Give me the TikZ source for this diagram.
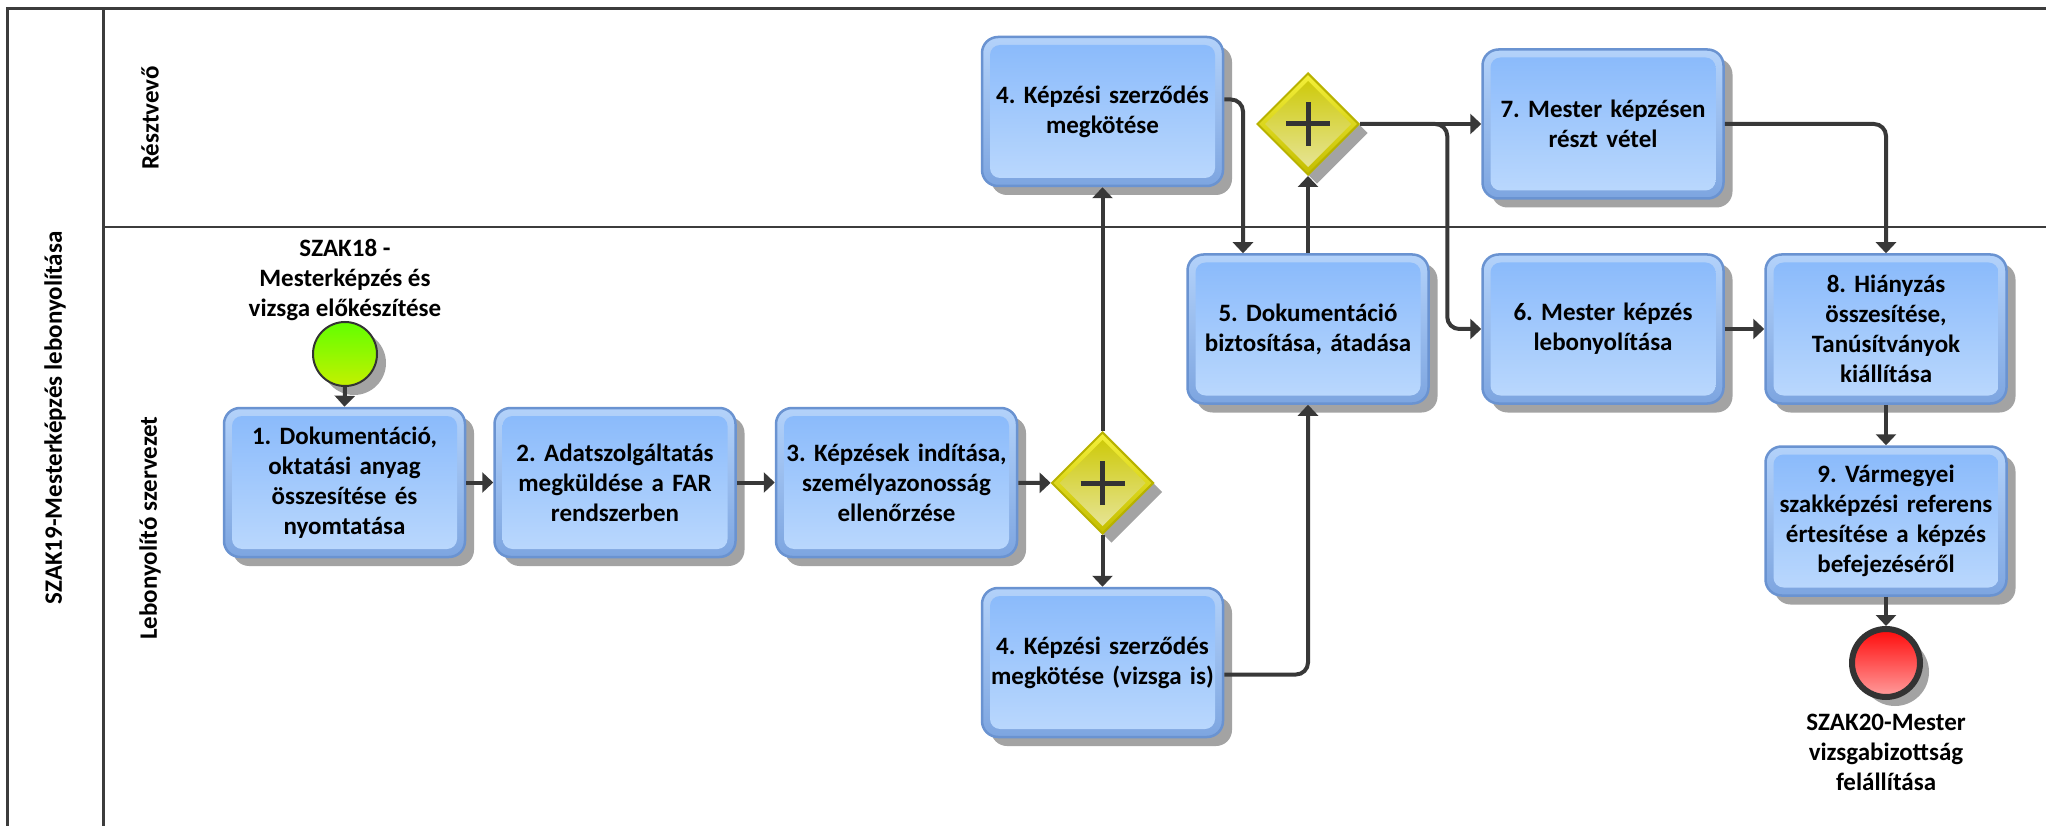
\documentclass[tikz,border=0pt]{standalone}
\usepackage{fontspec}
\setmainfont{Carlito}
\usetikzlibrary{shapes.geometric,shadows,arrows.meta,calc}

\definecolor{frameline}{HTML}{3C3C3C}
\definecolor{flowline}{HTML}{383838}
\definecolor{shadowgray}{HTML}{A3A3A3}
\definecolor{taskedge}{HTML}{6A93D1}
\definecolor{taskbandtop}{HTML}{B3D2FA}
\definecolor{taskbandbot}{HTML}{7DA5E0}
\definecolor{taskfilltop}{HTML}{88B9FB}
\definecolor{taskfillbot}{HTML}{BCD9FD}
\definecolor{gateedge}{HTML}{B8B200}
\definecolor{gatebandtop}{HTML}{F4F03A}
\definecolor{gatebandbot}{HTML}{C4BE00}
\definecolor{gatefilltop}{HTML}{CCC800}
\definecolor{gatefillbot}{HTML}{E8E6A0}
\definecolor{startfilltop}{HTML}{62FF00}
\definecolor{startfillbot}{HTML}{C4F000}
\definecolor{endfilltop}{HTML}{FF0A0A}
\definecolor{endfillbot}{HTML}{FF9E9E}
\definecolor{eventedge}{HTML}{333333}

\newcommand\diagfont{\fontsize{25pt}{30pt}\selectfont\bfseries\frenchspacing}

\tikzset{
  flow/.style={draw=flowline, line width=4pt, rounded corners=12pt,
    -{Triangle[length=11pt,width=20pt]}},
  castshadow/.style={drop shadow={shadow xshift=9pt, shadow yshift=-9pt,
    fill=shadowgray, opacity=1}},
  task/.style={rectangle, rounded corners=16pt, minimum width=241pt,
    minimum height=149pt, inner sep=0pt, draw=taskedge, line width=2.5pt,
    top color=taskbandtop, bottom color=taskbandbot, castshadow,
    text width=236pt, align=center, font=\diagfont,
    path picture={
      \shade[rounded corners=10pt, top color=taskfilltop, bottom color=taskfillbot]
        ([shift={(8pt,-8pt)}]path picture bounding box.north west) rectangle
        ([shift={(-8pt,8pt)}]path picture bounding box.south east);
    }},
  gateway/.style={diamond, aspect=1, minimum width=102pt, minimum height=102pt,
    inner sep=0pt, draw=gateedge, line width=2pt,
    top color=gatebandtop, bottom color=gatebandbot, castshadow,
    path picture={
      \shade[top color=gatefilltop, bottom color=gatefillbot]
        ([yshift=43pt]path picture bounding box.center) --
        ([xshift=43pt]path picture bounding box.center) --
        ([yshift=-43pt]path picture bounding box.center) --
        ([xshift=-43pt]path picture bounding box.center) -- cycle;
      \draw[eventedge, line width=5pt]
        ([xshift=-22pt]path picture bounding box.center) --
        ([xshift=22pt]path picture bounding box.center)
        ([yshift=-22pt]path picture bounding box.center) --
        ([yshift=22pt]path picture bounding box.center);
    }},
  startevent/.style={circle, minimum size=64pt, inner sep=0pt, draw=eventedge,
    line width=2pt, top color=startfilltop, bottom color=startfillbot, castshadow},
  stopevent/.style={circle, minimum size=68pt, inner sep=0pt, draw=eventedge,
    line width=6pt, top color=endfilltop, bottom color=endfillbot, castshadow},
  lanetitle/.style={rotate=90, font=\diagfont},
  eventlabel/.style={font=\diagfont, align=center},
}

\begin{document}
\begin{tikzpicture}[x=1pt, y=-1pt]
\useasboundingbox (0,0) rectangle (2046,826);
\fill[white] (0,0) rectangle (2046,826);

% pool and lanes
\draw[frameline, line width=3pt] (2060,9) -- (7,9) -- (7,840);
\draw[frameline, line width=3pt] (103,9) -- (103,840);
\draw[frameline, line width=2.5pt] (103,227) -- (2060,227);

\node[lanetitle] (pooltitle) at (55,418) {SZAK19-Mesterképzés lebonyolítása};
\node[lanetitle] (lanetop) at (150,118) {Résztvevő};
\node[lanetitle] (lanebottom) at (150,528) {Lebonyolító szervezet};

% events
\node[eventlabel] (startlabel) at (345,280) {SZAK18 -\\Mesterképzés és\\vizsga előkészítése};
\node[startevent] (start) at (345,354) {};
\node[stopevent] (stop) at (1886,663) {};
\node[eventlabel] (stoplabel) at (1886,752) {SZAK20-Mester\\vizsgabizottság\\felállítása};

% tasks
\node[task] (b1) at (344.5,482.5) {1. Dokumentáció,\\oktatási anyag\\összesítése és\\nyomtatása};
\node[task] (b2) at (615,482.5) {2. Adatszolgáltatás\\megküldése a FAR\\rendszerben};
\node[task] (b3) at (896.5,482.5) {3. Képzések indítása,\\személyazonosság\\ellenőrzése};
\node[task] (b4a) at (1102.5,111.5) {4. Képzési szerződés\\megkötése};
\node[task] (b4b) at (1102.5,662.5) {4. Képzési szerződés\\megkötése (vizsga is)};
\node[task] (b5) at (1308,329) {5. Dokumentáció\\biztosítása, átadása};
\node[task] (b6) at (1603,329) {6. Mester képzés\\lebonyolítása};
\node[task] (b7) at (1603,124) {7. Mester képzésen\\részt vétel};
\node[task] (b8) at (1886,329) {8. Hiányzás\\összesítése,\\Tanúsítványok\\kiállítása};
\node[task] (b9) at (1886,521) {9. Vármegyei\\szakképzési referens\\értesítése a képzés\\befejezéséről};

% gateways
\node[gateway] (g1) at (1102.5,483) {};
\node[gateway] (g2) at (1308,124) {};

% sequence flows
\draw[flow] (start.south) -- (b1.north);
\draw[flow] (b1) -- (b2);
\draw[flow] (b2) -- (b3);
\draw[flow] (b3) -- (g1);
\draw[flow] (g1.north) -- (b4a.south);
\draw[flow] (g1.south) -- (b4b.north);
\draw[flow] ([yshift=12pt]b4a.east) -| ([xshift=-65pt]b5.north);
\draw[flow] ([yshift=-12pt]b4b.east) -| (b5.south);
\draw[flow] (b5.north) -- (g2.south);
\draw[flow] (g2.east) -- (b7.west);
\draw[flow] (g2.east) -| ([xshift=-34pt]b6.west) -- (b6.west);
\draw[flow] (b7.east) -| (b8.north);
\draw[flow] (b6) -- (b8);
\draw[flow] (b8.south) -- (b9.north);
\draw[flow] (b9.south) -- (stop.north);
\end{tikzpicture}
\end{document}
